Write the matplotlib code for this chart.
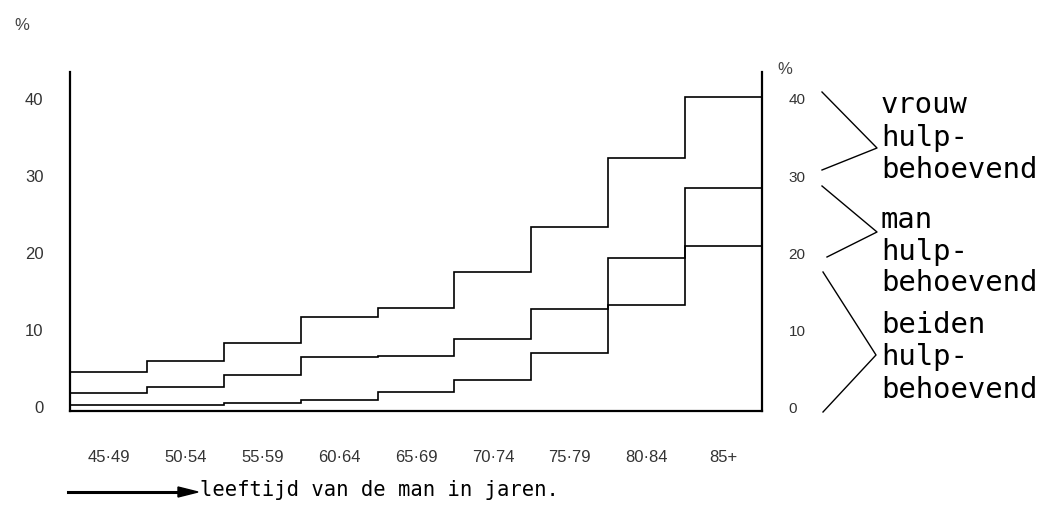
import numpy as np
import matplotlib
matplotlib.use("Agg")
import matplotlib.pyplot as plt
from matplotlib.lines import Line2D

# ---- data ----
age_groups = ["45·49", "50·54", "55·59", "60·64", "65·69", "70·74", "75·79", "80·84", "85+"]
vrouw_hulpbehoevend = [4.5, 6.0, 8.3, 11.7, 12.9, 17.5, 23.4, 32.3, 40.3]
man_hulpbehoevend = [1.9, 2.6, 4.2, 6.5, 6.6, 8.8, 12.7, 19.4, 28.4]
beiden_hulpbehoevend = [0.3, 0.3, 0.5, 0.9, 2.0, 3.5, 7.0, 13.2, 20.9]
yticks = [0, 10, 20, 30, 40]

W, H = 1041, 508
fig = plt.figure(figsize=(W / 100, H / 100), dpi=100)
fig.patch.set_facecolor("white")

def fx(x):
    return x / W

def fy(y):
    return 1 - y / H

ax = fig.add_axes([fx(70), fy(411), fx(762) - fx(70), fy(72) - fy(411)])
edges = np.arange(len(age_groups) + 1)
for vals in (vrouw_hulpbehoevend, man_hulpbehoevend, beiden_hulpbehoevend):
    ax.stairs(vals, edges, color="black", linewidth=1.2, baseline=None)

ax.set_xlim(0, len(age_groups))
ax.set_ylim(-0.5, 43.5)
ax.spines["top"].set_visible(False)
for s in ("left", "bottom", "right"):
    ax.spines[s].set_linewidth(1.6)
ax.set_xticks(edges[:-1] + 0.5)
ax.set_xticklabels(age_groups, fontsize=12, color="#333333", family="Liberation Sans")
ax.set_yticks(yticks)
ax.set_yticklabels([str(v) for v in yticks], fontsize=12, color="#333333", family="Liberation Sans")
ax.tick_params(axis="both", length=0)
ax.tick_params(axis="x", pad=28)
ax.tick_params(axis="y", pad=19)

# right axis labels
ax2 = ax.twinx()
ax2.set_ylim(ax.get_ylim())
ax2.set_yticks(yticks)
ax2.set_yticklabels([str(v) for v in yticks], fontsize=11, color="#333333", family="Liberation Sans")
ax2.tick_params(axis="y", length=0, pad=19)
for s in ("left", "bottom", "top", "right"):
    ax2.spines[s].set_visible(False)

# % signs
fig.text(fx(22), fy(25), "%", fontsize=12, color="#444444", ha="center", va="center", family="Liberation Sans")
fig.text(fx(785), fy(70), "%", fontsize=12, color="#444444", ha="center", va="center", family="Liberation Sans")

# right-hand legend text
mono = "DejaVu Sans Mono"
legend_lines = [
    ("vrouw", 105), ("hulp-", 138), ("behoevend", 170),
    ("man", 220), ("hulp-", 252), ("behoevend", 283),
    ("beiden", 325), ("hulp-", 357), ("behoevend", 390),
]
for txt, y in legend_lines:
    fig.text(fx(881), fy(y), txt, fontsize=20.8, family=mono, ha="left", va="center")

# brackets
brackets = [
    [(822, 92), (877, 148), (822, 170)],
    [(822, 186), (877, 232), (827, 257)],
    [(823, 272), (876, 355), (823, 412)],
]
for pts in brackets:
    xs = [fx(p[0]) for p in pts]
    ys = [fy(p[1]) for p in pts]
    fig.add_artist(Line2D(xs, ys, color="black", linewidth=1.0, transform=fig.transFigure))

# bottom caption with arrow
fig.add_artist(Line2D([fx(68), fx(182)], [fy(492), fy(492)], color="black", linewidth=2.2,
                      transform=fig.transFigure))
fig.patches.append(plt.Polygon([[fx(178), fy(487)], [fx(198), fy(492)], [fx(178), fy(497)]],
                               closed=True, color="black", transform=fig.transFigure))
fig.text(fx(200), fy(490), "leeftijd van de man in jaren.", fontsize=14.8, family=mono,
         ha="left", va="center")

fig.savefig("out.png", dpi=100, facecolor="white")
